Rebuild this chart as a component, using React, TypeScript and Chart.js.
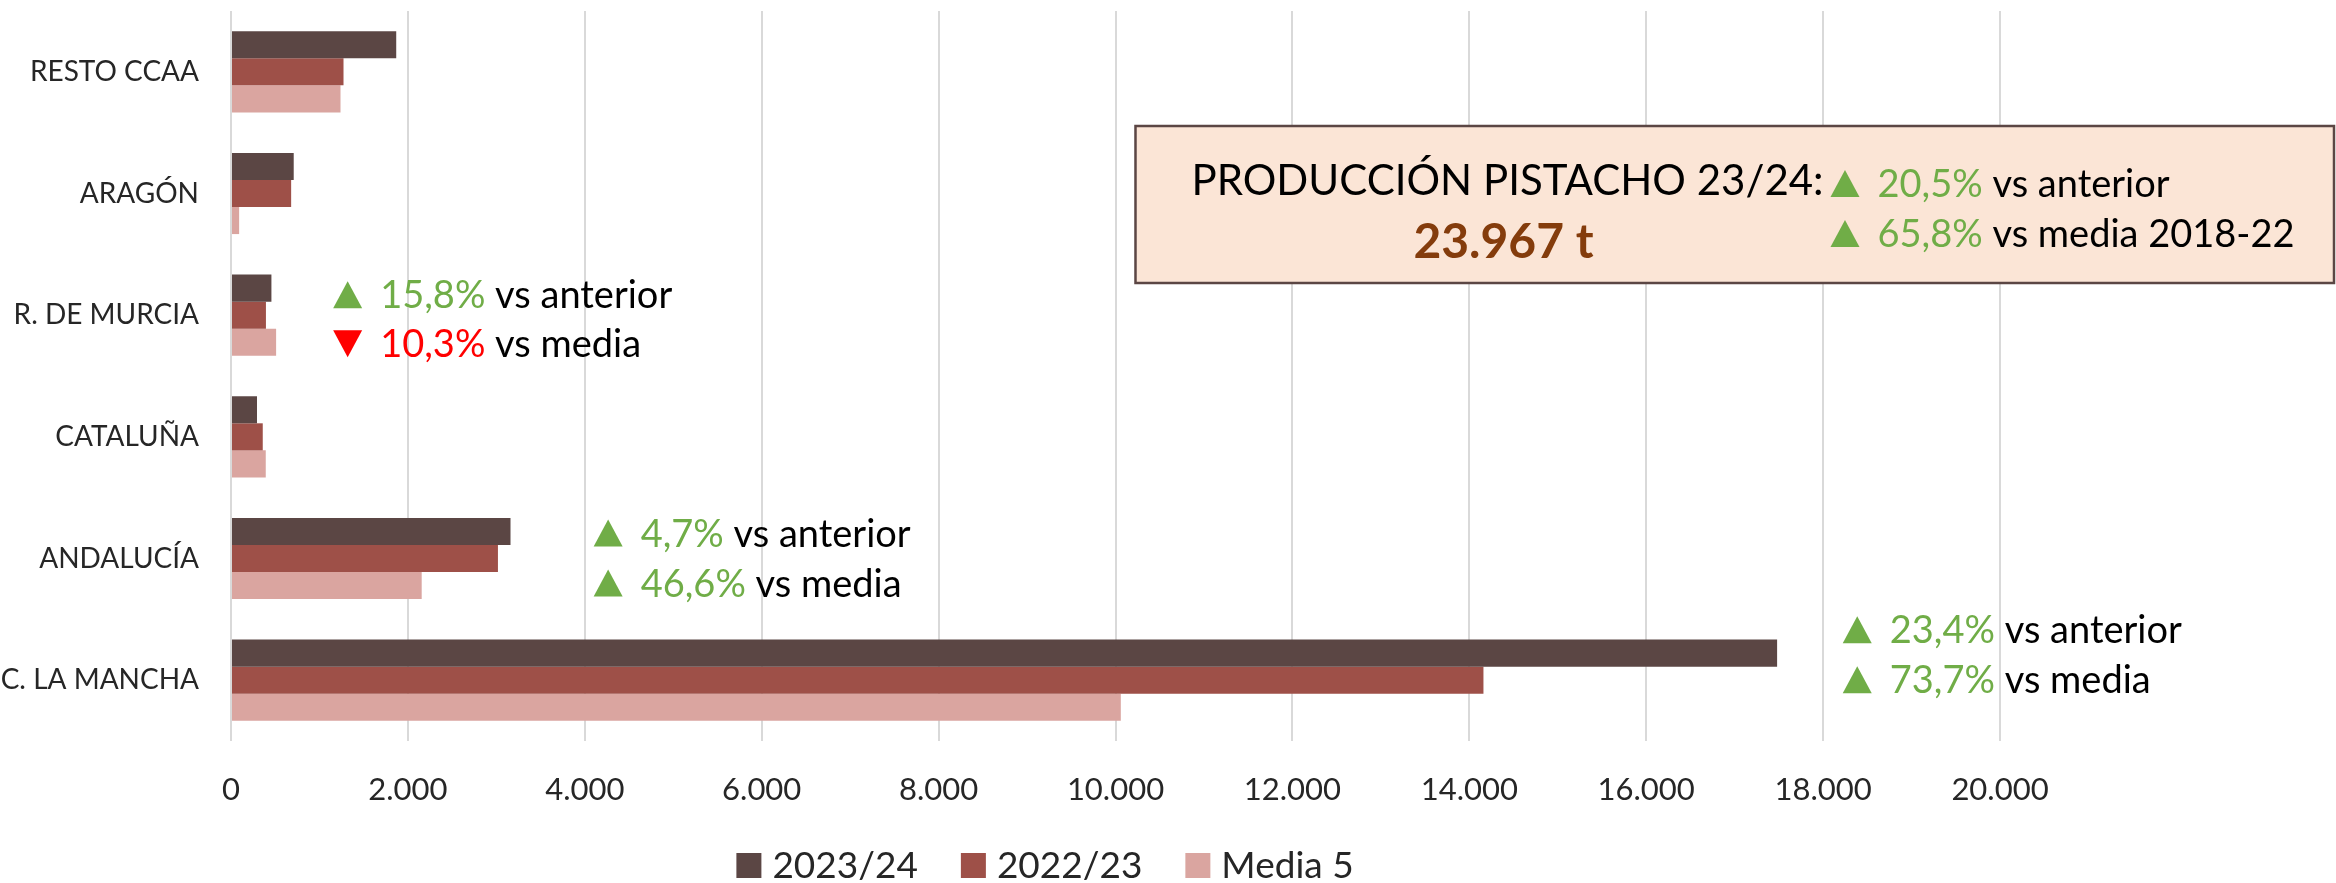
import React, { useEffect, useRef } from "react";
import { Chart, registerables } from "chart.js";

Chart.register(...registerables);

// ---------- DATA ----------
const categories = ["RESTO CCAA", "ARAGÓN", "R. DE MURCIA", "CATALUÑA", "ANDALUCÍA", "C. LA MANCHA"];
const seriesNames = ["2023/24", "2022/23", "Media 5"];
const values2324 = [1868, 709, 457, 294, 3160, 17480];
const values2223 = [1272, 680, 395, 359, 3018, 14160];
const valuesMedia = [1238, 92, 510, 393, 2156, 10060];
const xMin = 0;
const xMax = 20000;
const xStep = 2000;

// annotations (per region)
const annoCategories = ["R. DE MURCIA", "ANDALUCÍA", "C. LA MANCHA"];
const annoVsAnterior = [15.8, 4.7, 23.4];
const annoVsMedia = [-10.3, 46.6, 73.7];

// summary box
const totalTitle = "PRODUCCIÓN PISTACHO 23/24:";
const totalProduction = 23967;
const totalVsAnterior = 20.5;
const totalVsMedia = 65.8;

// ---------- LAYOUT / STYLE ----------
const W = 2336;
const H = 883;
const FONT = "Lato, 'Open Sans', sans-serif";
const seriesColors = ["#5B4644", "#9E5048", "#DAA5A0"];
const GREEN = "#70AD47";
const RED = "#FF0000";
const GRID = "#D9D9D9";
const annoXValue = [1155, 4100, 18222]; // where each annotation starts (x units)
const annoLine1Offset = [-7, -12, -37];
const annoLine2Offset = [42, 38, 13];
const ANNO_FONT = 38;
const TRI_W = 29;
const TRI_H = 27;
const TEXT_GAP = 47;

const fmtThousands = (v: number) => String(Math.round(v)).replace(/\B(?=(\d{3})+(?!\d))/g, ".");
const fmtPct = (v: number) => Math.abs(v).toFixed(1).replace(".", ",") + "%";

function drawDelta(ctx: CanvasRenderingContext2D, x0: number, baseline: number, pct: number, label: string, size: number) {
  const up = pct >= 0;
  ctx.fillStyle = up ? GREEN : RED;
  ctx.beginPath();
  if (up) {
    ctx.moveTo(x0, baseline);
    ctx.lineTo(x0 + TRI_W, baseline);
    ctx.lineTo(x0 + TRI_W / 2, baseline - TRI_H);
  } else {
    ctx.moveTo(x0, baseline - TRI_H);
    ctx.lineTo(x0 + TRI_W, baseline - TRI_H);
    ctx.lineTo(x0 + TRI_W / 2, baseline);
  }
  ctx.closePath();
  ctx.fill();
  ctx.font = `${size}px ${FONT}`;
  ctx.textAlign = "left";
  ctx.textBaseline = "alphabetic";
  const p = fmtPct(pct) + " ";
  ctx.fillText(p, x0 + TEXT_GAP, baseline);
  const w = ctx.measureText(p).width;
  ctx.fillStyle = "#000000";
  ctx.fillText(label, x0 + TEXT_GAP + w, baseline);
}

const annotationPlugin = {
  id: "regionAnnotations",
  afterDatasetsDraw(chart: any) {
    const { ctx } = chart;
    const x = chart.scales.x;
    const y = chart.scales.y;
    ctx.save();
    annoCategories.forEach((cat, i) => {
      const cy = y.getPixelForValue(categories.indexOf(cat));
      const x0 = x.getPixelForValue(annoXValue[i]);
      drawDelta(ctx, x0, cy + annoLine1Offset[i], annoVsAnterior[i], "vs anterior", ANNO_FONT);
      drawDelta(ctx, x0, cy + annoLine2Offset[i], annoVsMedia[i], "vs media", ANNO_FONT);
    });
    ctx.restore();
  },
  afterDraw(chart: any) {
    const { ctx, chartArea } = chart;
    const x = chart.scales.x;
    ctx.save();
    // summary box
    const left = x.getPixelForValue(10226);
    const right = chart.width - 2;
    const top = chartArea.top + 115;
    const bottom = chartArea.top + 272;
    ctx.fillStyle = "#FBE5D6";
    ctx.fillRect(left, top, right - left, bottom - top);
    ctx.strokeStyle = "#5B4644";
    ctx.lineWidth = 2.5;
    ctx.strokeRect(left, top, right - left, bottom - top);

    ctx.fillStyle = "#000000";
    ctx.font = `42px ${FONT}`;
    ctx.textAlign = "left";
    ctx.textBaseline = "alphabetic";
    ctx.fillText(totalTitle, left + 56, top + 69);

    ctx.fillStyle = "#843C0C";
    ctx.font = `bold 48px ${FONT}`;
    ctx.textAlign = "center";
    ctx.fillText(fmtThousands(totalProduction) + " t", left + 368, top + 132);

    drawDelta(ctx, left + 695, top + 71, totalVsAnterior, "vs anterior", ANNO_FONT);
    drawDelta(ctx, left + 695, top + 121, totalVsMedia, "vs media 2018-22", ANNO_FONT);

    // legend
    const legFont = 37;
    const box = 25;
    const gapBoxText = 11;
    const gapItems = 43;
    ctx.font = `${legFont}px ${FONT}`;
    ctx.textAlign = "left";
    const widths = chart.data.datasets.map((d: any) => ctx.measureText(d.label).width);
    const total = widths.reduce((a: number, w: number) => a + box + gapBoxText + w, 0) + gapItems * (widths.length - 1);
    let lx = 1045 - total / 2;
    const baseline = 878;
    chart.data.datasets.forEach((d: any, i: number) => {
      ctx.fillStyle = d.backgroundColor;
      ctx.fillRect(lx, baseline - box, box, box);
      ctx.fillStyle = "#262626";
      ctx.fillText(d.label, lx + box + gapBoxText, baseline);
      lx += box + gapBoxText + widths[i] + gapItems;
    });
    ctx.restore();
  },
};

export default function App() {
  const ref = useRef<HTMLCanvasElement>(null);
  useEffect(() => {
    document.body.style.margin = "0";
    const canvas = ref.current!;
    const seriesValues = [values2324, values2223, valuesMedia];
    const chart = new Chart(canvas, {
      type: "bar",
      data: {
        labels: categories,
        datasets: seriesNames.map((name, i) => ({
          label: name,
          data: seriesValues[i],
          backgroundColor: seriesColors[i],
          borderWidth: 0,
          categoryPercentage: 0.667,
          barPercentage: 1.0,
        })),
      },
      options: {
        indexAxis: "y",
        responsive: false,
        animation: false,
        devicePixelRatio: 1,
        layout: { padding: { top: 11, right: W - 2000, bottom: 0, left: 0 } },
        plugins: {
          legend: { display: false },
          tooltip: { enabled: false },
        },
        scales: {
          x: {
            min: xMin,
            max: xMax,
            ticks: {
              stepSize: xStep,
              padding: 30,
              color: "#262626",
              font: { family: FONT, size: 31 },
              callback: (v: any) => fmtThousands(Number(v)),
            },
            grid: { color: GRID, lineWidth: 2, drawTicks: false },
            border: { display: false },
            afterFit: (s: any) => {
              s.height = 142;
              s.paddingLeft = 0;
            },
          },
          y: {
            ticks: {
              padding: 32,
              color: "#262626",
              font: { family: FONT, size: 28 },
            },
            grid: { display: false, drawTicks: false },
            border: { display: false },
            afterFit: (s: any) => {
              s.width = 231;
              s.paddingTop = 0;
              s.paddingBottom = 0;
            },
          },
        },
      },
      plugins: [annotationPlugin],
    } as any);
    return () => chart.destroy();
  }, []);
  return (
    <div style={{ width: W, height: H }}>
      <canvas ref={ref} width={W} height={H} style={{ display: "block", width: W, height: H }} />
    </div>
  );
}
